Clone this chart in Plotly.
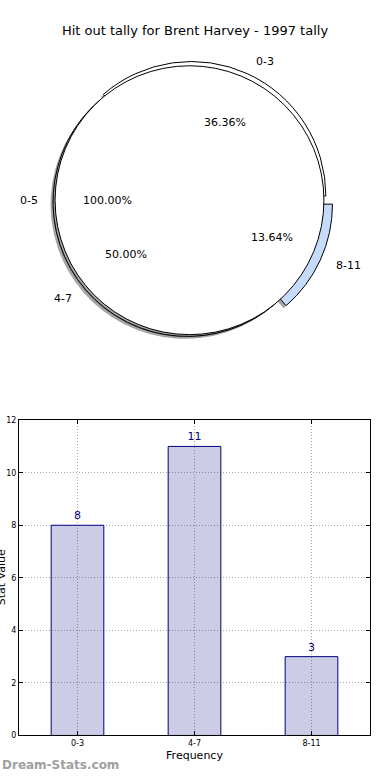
import numpy as np
import plotly.graph_objects as go

# ---------------- data ----------------
categories = ["0-3", "4-7", "8-11"]
counts = [8, 11, 3]
slice_colors = ["#ffffff", "#ffffff", "#c6dafc"]
slice_pulls = [0.035, 0.02, 0.07]
total_label = ["0-5"]
total_value = [1]
y_ticks = [0, 2, 4, 6, 8, 10, 12]
title_text = "Hit out tally for Brent Harvey - 1997 tally"

# ---------------- geometry helpers ----------------
W, H = 390, 780
FONT = "DejaVu Sans"
CX, CY, R = 189.5, 198.5, 136.0   # pie centre / radius in px
SHX, SHY = -2.5, 2.5               # shadow offset in px


def dom(cx, cy, half):
    return dict(x=[(cx - half) / W, (cx + half) / W],
                y=[1 - (cy + half) / H, 1 - (cy - half) / H])


def px2paper(x, y):
    return x / W, 1 - y / H


fig = go.Figure()

halfA = R * (1 + max(slice_pulls))
# first slice starts at 3 o'clock and runs counter-clockwise
rot = 90 - 360.0 * counts[0] / sum(counts)
common = dict(sort=False, direction="counterclockwise",
              textinfo="none", hoverinfo="skip", showlegend=False)

# shadow of the three slices
fig.add_trace(go.Pie(labels=categories, values=counts, pull=slice_pulls, rotation=rot,
                     marker=dict(colors=["rgba(0,0,0,0.35)"] * 3,
                                 line=dict(width=0)),
                     domain=dom(CX + SHX, CY + SHY, halfA), **common))
# three exploded slices
fig.add_trace(go.Pie(labels=categories, values=counts, pull=slice_pulls, rotation=rot,
                     marker=dict(colors=slice_colors,
                                 line=dict(color="black", width=1)),
                     domain=dom(CX, CY, halfA), **common))
# shadow of the total disc
fig.add_trace(go.Pie(labels=total_label, values=total_value, rotation=90,
                     marker=dict(colors=["rgba(0,0,0,0.35)"],
                                 line=dict(width=0)),
                     domain=dom(CX + SHX, CY + SHY, R), **common))
# total disc
fig.add_trace(go.Pie(labels=total_label, values=total_value, rotation=90,
                     marker=dict(colors=["#ffffff"],
                                 line=dict(color="black", width=1)),
                     domain=dom(CX, CY, R), **common))

annotations = []


def pie_texts(labels, values, pulls):
    tot = float(sum(values))
    start = 0.0
    for lab, v, p in zip(labels, values, pulls):
        frac = v / tot
        mid = np.deg2rad((start + frac / 2) * 360.0)
        start += frac
        c, s = np.cos(mid), np.sin(mid)
        # label
        d = (1.1 + p) * R
        x, y = px2paper(CX + d * c, CY - d * s)
        annotations.append(dict(x=x, y=y, xref="paper", yref="paper",
                                text=lab, showarrow=False,
                                xanchor="right" if c < -1e-9 else "left",
                                yanchor="middle",
                                font=dict(family=FONT, size=11, color="black")))
        # percentage
        d = (0.6 + p) * R
        x, y = px2paper(CX + d * c, CY - d * s)
        annotations.append(dict(x=x, y=y, xref="paper", yref="paper",
                                text=f"{100 * frac:.2f}%", showarrow=False,
                                xanchor="center", yanchor="middle",
                                font=dict(family=FONT, size=11, color="black")))


pie_texts(categories, counts, slice_pulls)
pie_texts(total_label, total_value, [0.0])

# ---------------- bar chart ----------------
fig.add_trace(go.Bar(x=categories, y=counts, width=0.45,
                     marker=dict(color="rgba(0,0,128,0.2)",
                                 line=dict(color="#000080", width=1)),
                     text=[str(v) for v in counts], textposition="outside",
                     textfont=dict(family=FONT, size=11, color="#000080"),
                     cliponaxis=False, hoverinfo="skip", showlegend=False))

axis_common = dict(showline=True, linecolor="black", linewidth=1, mirror="ticks",
                   ticks="inside", ticklen=4, tickcolor="black",
                   showgrid=True, gridcolor="#a8a8a8", griddash="1px,2px", gridwidth=1,
                   zeroline=False, tickfont=dict(family=FONT, size=8, color="black"))

fig.update_layout(
    xaxis=dict(domain=[19 / W, 370 / W], type="category", range=[-0.5, 2.5],
               title=dict(text="Frequency", standoff=4,
                          font=dict(family=FONT, size=11, color="black")),
               **axis_common),
    yaxis=dict(domain=[1 - 740 / H, 1 - 421 / H], range=[0, 12],
               tickvals=y_ticks, ticktext=[str(t) for t in y_ticks],
               **axis_common),
)

annotations.append(dict(x=1 / W, y=1 - 580 / H, xref="paper", yref="paper",
                        text="Stat Value", textangle=-90, showarrow=False,
                        xanchor="center", yanchor="middle",
                        font=dict(family=FONT, size=11, color="black")))
annotations.append(dict(x=0, y=1 - 770 / H, xref="paper", yref="paper",
                        text="<b>Dream-Stats.com</b>", showarrow=False,
                        xanchor="left", yanchor="middle",
                        font=dict(family=FONT, size=12, color="#a0a0a0")))

fig.update_layout(
    width=W, height=H, autosize=False,
    margin=dict(l=0, r=0, t=0, b=0),
    paper_bgcolor="white", plot_bgcolor="white",
    font=dict(family=FONT, color="black"),
    title=dict(text=title_text, x=0.5, xanchor="center", y=1 - 30 / H,
               yanchor="middle", font=dict(family=FONT, size=13, color="black")),
    annotations=annotations,
)

fig.write_html("out.html",
               config={"displayModeBar": False, "staticPlot": True},
               post_script="document.body.style.margin='0';"
                           "document.body.style.padding='0';"
                           "document.body.style.overflow='hidden';")
